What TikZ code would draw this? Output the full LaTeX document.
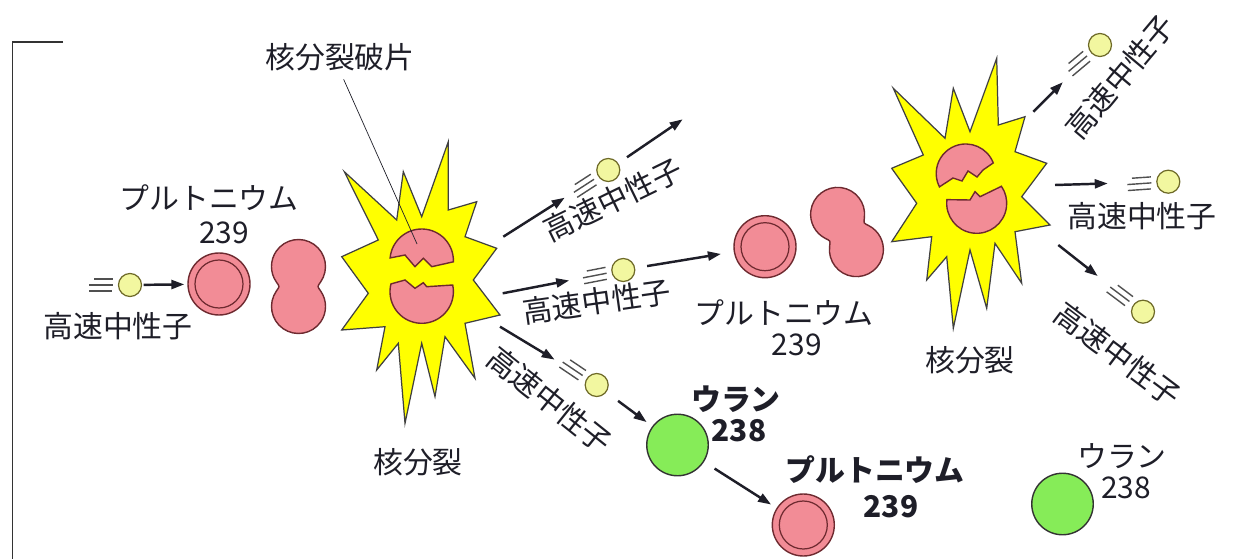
\documentclass[tikz,border=0pt]{standalone}
\usepackage{fontspec}
\setmainfont{Noto Sans CJK JP}
\usetikzlibrary{arrows.meta}
\definecolor{cInk}{HTML}{1E1E28}
\definecolor{cNucleus}{HTML}{F28C96}
\definecolor{cRim}{HTML}{6E2A30}
\definecolor{cUranium}{HTML}{86EC58}
\definecolor{cFlash}{HTML}{FFFF00}
\definecolor{cNeutron}{HTML}{F2F7A0}
\definecolor{cNeutronRim}{HTML}{6E6A28}
\definecolor{cTrail}{HTML}{505050}

\begin{document}
\begin{tikzpicture}[
  x=0.2mm, y=0.2mm,
  font=\fontsize{17}{19}\selectfont,
  >={Triangle[length=2.6mm, width=1.8mm]},
  lab/.style={text=cInk, inner sep=0pt},
  heavy/.style={lab, font=\fontsize{17}{19}\selectfont\bfseries},
  nucleus/.style={draw=cRim, fill=cNucleus, line width=0.8pt},
  pu/.style={nucleus, circle, minimum size=12.4mm, inner sep=0pt},
  u238/.style={circle, draw=black!80, fill=cUranium, line width=0.8pt,
               minimum size=12.3mm, inner sep=0pt},
  neutron/.style={circle, draw=cNeutronRim, fill=cNeutron, line width=0.7pt,
                  minimum size=4.6mm, inner sep=0pt},
  flash/.style={draw=black!75, fill=cFlash, line width=0.7pt},
  flow/.style={->, draw=cInk, line width=1.4pt},
  trail/.style={draw=cTrail, line width=0.8pt},
]
\useasboundingbox (0,0) rectangle (1233,559);

% ---- frame corner ------------------------------------------------------
\draw[draw=black!80, line width=0.9pt] (63,517) -- (12.5,517) -- (12.5,0);

% ---- incoming neutron and Pu-239 ----------------------------------------
\node[neutron] (n0) at (130,274) {};
\node[lab] (n0name) at (118,232.5) {高速中性子};
\node[pu] (pu1) at (219,275) {};
\node[lab] (pu1name) at (209,361.5) {プルトニウム};
\node[lab] (pu1mass) at (224,326.5) {239};
\draw[flow, shorten <=0.3mm, shorten >=0.6mm] (n0) -- (pu1);

% ---- first fission flash -----------------------------------------------
\draw[flash] (344.3,387.3) -- (396.7,339) -- (403.3,387.3) -- (421.7,342.3)
  -- (448.3,417.3) -- (448.3,349) -- (476.7,357.3) -- (465,322.3)
  -- (496.7,310.7) -- (473.3,279) -- (500,244) -- (465,235.7)
  -- (475,180.7) -- (445,222.3) -- (435,162.3) -- (421.7,215.7)
  -- (405,135.7) -- (398.3,215.7) -- (376.7,189) -- (385,232.3)
  -- (341.7,229) -- (368.3,265.7) -- (341.7,302.3) -- (378.3,319) -- cycle;
\draw[nucleus] (421.7,298.3) ++(-2:31.7) arc[start angle=-2, end angle=175, radius=31.7]
  -- (405,304) -- (415,292.3) -- (423.3,300.7) -- (431.7,292.3) -- cycle;
\draw[nucleus] (421.7,267.4) ++(166:31.7) arc[start angle=166, end angle=372, radius=31.7]
  -- (426.7,272.3) -- (423.3,276.3) -- (415,270.7) -- (405,279) -- cycle;
\node[lab] (fis1name) at (418,97) {核分裂};

\node[lab] (shard) at (340,502) {核分裂破片};
\coordinate (shardtip) at (417,315);
\draw[draw=cInk, line width=0.4pt, shorten <=1.8mm] (shard.south) -- (shardtip);

% neutrons released by the first fission
\coordinate (s1a) at (503.3,322.3);
\coordinate (s1b) at (502.7,265.7);
\coordinate (s1c) at (500,232.3);
\coordinate (e1a) at (682.7,439.7);
\node[neutron] (na) at (608.3,389) {};
\node[neutron] (nb) at (623.3,289) {};
\node[neutron] (nc) at (596.7,174) {};
\node[lab, rotate=26] (naname) at (613,359) {高速中性子};
\node[lab, rotate=8] (nbname) at (596.7,257.3) {高速中性子};
\node[lab, rotate=-38.7] (ncname) at (550,159) {高速中性子};

% ---- second Pu-239 ------------------------------------------------------
\node[pu] (pu2) at (765,312.3) {};
\node[lab] (pu2name) at (784,246) {プルトニウム};
\node[lab] (pu2mass) at (796.7,214) {239};

% deformed (stretched) nuclei
\foreach \cx/\cy/\r in {298.5/272.5/0, 847/327/28} {
  \begin{scope}[shift={(\cx,\cy)}, rotate=\r]
    \draw[nucleus] (22.1,4.5) arc[start angle=-35, end angle=215, radius=27]
      .. controls +(305:6) and +(55:6) .. (-22.1,-4.5)
      arc[start angle=145, end angle=395, radius=27]
      .. controls +(125:6) and +(235:6) .. (22.1,4.5) -- cycle;
  \end{scope}
}

% ---- U-238 capture ------------------------------------------------------
\node[u238] (u1) at (677.5,114) {};
\node[heavy] (u1name) at (736,160) {ウラン};
\node[heavy] (u1mass) at (739,128) {238};
\node[pu] (pu3) at (803.3,34) {};
\node[heavy] (pu3name) at (875,89) {プルトニウム};
\node[heavy] (pu3mass) at (891,52) {239};

\draw[flow, shorten >=7.9mm] (s1a) -- (na);
\draw[flow, shorten <=2.1mm] (na) -- (e1a);
\draw[flow, shorten >=8.6mm] (s1b) -- (nb);
\draw[flow, shorten <=2.4mm, shorten >=2.6mm] (nb) -- (pu2);
\draw[flow, shorten >=7.4mm] (s1c) -- (nc);
\draw[flow, shorten <=2.9mm, shorten >=1.4mm] (nc) -- (u1);
\draw[flow, shorten <=2.5mm, shorten >=1.3mm] (u1) -- (pu3);

% ---- second fission flash ----------------------------------------------
\draw[flash] (893.3,470.7) -- (945,420.7) -- (953.3,470.7) -- (970,427.3)
  -- (996.7,500.7) -- (998.3,434) -- (1025,442.3) -- (1015,407.3)
  -- (1046.7,395.7) -- (1021.7,362.3) -- (1050,334) -- (1015,327.3)
  -- (1021.7,275.7) -- (995,315.7) -- (986.7,250.7) -- (970,309)
  -- (953.3,230.7) -- (946.7,302.3) -- (926.7,279) -- (931.7,322.3)
  -- (891.7,317.3) -- (916.7,355.7) -- (891.7,390.7) -- (923.3,404) -- cycle;
\draw[nucleus] (965.7,385.5) ++(21:29.5) arc[start angle=21, end angle=207, radius=29.5]
  -- (953,381) -- (962,378) -- (968,388) -- (977,382) -- (983,389) -- cycle;
\draw[nucleus] (976.7,355.7) ++(173:30) arc[start angle=173, end angle=394.5, radius=30]
  -- (980,362.3) -- (975,367.3) -- (970,359) -- cycle;
\node[lab] (fis2name) at (970,199) {核分裂};

% neutrons released by the second fission
\coordinate (s2d) at (1033.3,447.3);
\coordinate (s2e) at (1055,374);
\coordinate (s2f) at (1058.3,314);
\node[neutron] (nd) at (1100,514) {};
\node[neutron] (ne) at (1168.3,377.3) {};
\node[neutron] (nf) at (1143,247.3) {};
\node[lab, rotate=50] (ndname) at (1120,482) {高速中性子};
\node[lab] (nename) at (1142,343) {高速中性子};
\node[lab, rotate=-37] (nfname) at (1118,205) {高速中性子};
\draw[flow, shorten >=8.1mm] (s2d) -- (nd);
\draw[flow, shorten >=9.7mm] (s2e) -- (ne);
\draw[flow, shorten >=9.1mm] (s2f) -- (nf);

% ---- leftover U-238 -----------------------------------------------------
\node[u238] (u2) at (1062.5,55) {};
\node[lab] (u2name) at (1122,103) {ウラン};
\node[lab] (u2mass) at (1126,71) {238};

% inner rings of the Pu-239 nuclei
\foreach \p in {pu1,pu2,pu3} {
  \draw[draw=cRim, line width=0.7pt] (\p.center) circle[radius=24];
}

% speed marks behind every neutron
\foreach \n/\a in {n0/0, na/33, nb/11, nc/-34, nd/40, ne/4, nf/-37} {
  \begin{scope}[shift={(\n.center)}, rotate=\a]
    \draw[trail] (-36,6) -- (-17,6) (-41,0) -- (-17,0) (-41,-6) -- (-18,-6);
  \end{scope}
}

\end{tikzpicture}
\end{document}
